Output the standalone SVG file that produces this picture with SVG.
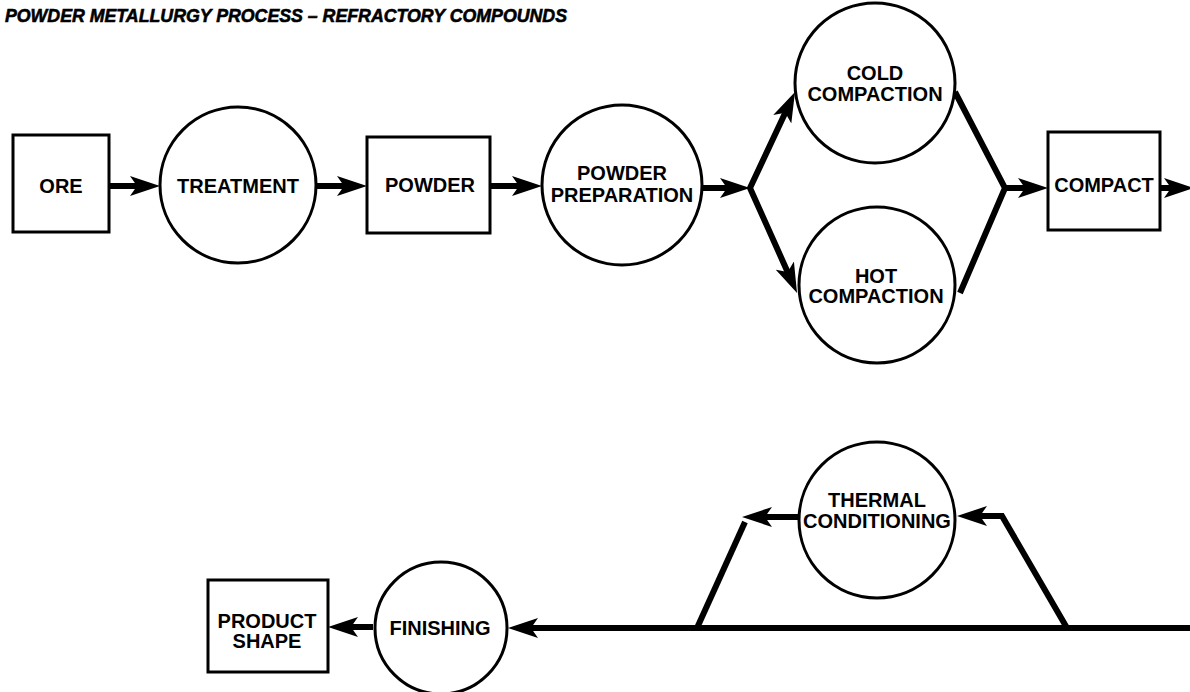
<svg xmlns="http://www.w3.org/2000/svg" width="1190" height="692" viewBox="0 0 1190 692">
<style>
.bg{fill:#fff}
.box{fill:#fff;stroke:#000;stroke-width:3}
.circ{fill:#fff;stroke:#000;stroke-width:3}
.lbl{font-family:"Liberation Sans",Arial,sans-serif;font-size:20px;font-weight:bold;fill:#000;text-anchor:middle}
.title{font-family:"Liberation Sans",Arial,sans-serif;font-size:19px;font-weight:bold;font-style:italic;fill:#000;stroke:#000;stroke-width:0.6}
.con{fill:none;stroke:#000;stroke-width:6;stroke-linejoin:miter}
</style>
<defs>
<marker id="ah" markerUnits="userSpaceOnUse" markerWidth="30" markerHeight="20" viewBox="0 0 30 20" refX="14" refY="10" orient="auto-start-reverse">
<path d="M0,0 L30,10 L0,20 L7,10 Z" fill="#000"/>
</marker>
</defs>
<rect class="bg" x="0" y="0" width="1190" height="692"/>
<text class="title" x="5" y="22" textLength="562" lengthAdjust="spacingAndGlyphs">POWDER METALLURGY PROCESS – REFRACTORY COMPOUNDS</text>

<g id="connectors">
<path class="con" d="M109,186 L144,186" marker-end="url(#ah)"/>
<path class="con" d="M316,186 L351,186" marker-end="url(#ah)"/>
<path class="con" d="M490,186 L526,186" marker-end="url(#ah)"/>
<path class="con" d="M702,188 L734,188" marker-end="url(#ah)"/>
<path class="con" d="M788.2,106.5 L750,188 L790.5,278.4" marker-start="url(#ah)" marker-end="url(#ah)"/>
<path class="con" d="M955,92 L1005,188 L960,293"/>
<path class="con" d="M1005,188 L1032,188" marker-end="url(#ah)"/>
<path class="con" d="M1160,188 L1178,188" marker-end="url(#ah)"/>
<path class="con" d="M1192,628 L524,628" marker-end="url(#ah)"/>
<path class="con" d="M697,628 L745,522"/>
<path class="con" d="M798,517 L758,517" marker-end="url(#ah)"/>
<path class="con" d="M1067,628 L1002,516 L973,516" marker-end="url(#ah)"/>
<path class="con" d="M373,627 L344,627" marker-end="url(#ah)"/>
</g>

<g id="ore"><rect class="box" x="13" y="135" width="96" height="97"/><text class="lbl" x="61" y="193">ORE</text></g>
<g id="treatment"><circle class="circ" cx="238" cy="185" r="78"/><text class="lbl" x="238" y="193">TREATMENT</text></g>
<g id="powder"><rect class="box" x="367" y="137" width="123" height="96"/><text class="lbl" x="430" y="192">POWDER</text></g>
<g id="powder-preparation"><circle class="circ" cx="622" cy="185" r="80"/><text class="lbl" x="622" y="180">POWDER</text><text class="lbl" x="622" y="202">PREPARATION</text></g>
<g id="cold-compaction"><circle class="circ" cx="875" cy="83" r="80"/><text class="lbl" x="875" y="80">COLD</text><text class="lbl" x="875" y="101">COMPACTION</text></g>
<g id="hot-compaction"><circle class="circ" cx="877" cy="285" r="78"/><text class="lbl" x="876" y="283">HOT</text><text class="lbl" x="876" y="303">COMPACTION</text></g>
<g id="compact"><rect class="box" x="1048" y="132" width="112" height="98"/><text class="lbl" x="1104" y="192">COMPACT</text></g>
<g id="thermal-conditioning"><circle class="circ" cx="877" cy="520" r="78"/><text class="lbl" x="877" y="507">THERMAL</text><text class="lbl" x="877" y="528">CONDITIONING</text></g>
<g id="finishing"><circle class="circ" cx="441" cy="628" r="66"/><text class="lbl" x="440" y="635">FINISHING</text></g>
<g id="product-shape"><rect class="box" x="208" y="580" width="120" height="92"/><text class="lbl" x="267" y="628">PRODUCT</text><text class="lbl" x="267" y="648">SHAPE</text></g>
</svg>
